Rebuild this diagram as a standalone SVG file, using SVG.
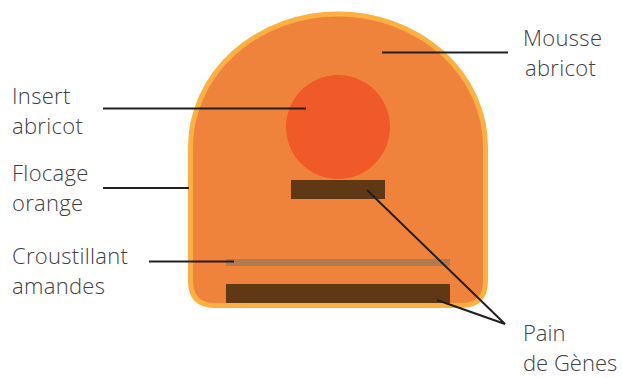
<svg xmlns="http://www.w3.org/2000/svg" width="622" height="378" viewBox="0 0 622 378">
<style>
.lbl{font-family:"Open Sans","Noto Sans",sans-serif;font-weight:300;font-size:22px;letter-spacing:0.3px;fill:#414042}
.tight{letter-spacing:0}
.ln{stroke:#231F20;stroke-width:2;fill:none}
</style>
<rect width="622" height="378" fill="#fff"/>
<g id="mousse">
<path d="M190.5 147 A147.5 133 0 0 1 485.5 147 L485.5 281 Q485.5 305.5 461 305.5 L215 305.5 Q190.5 305.5 190.5 281 Z" fill="#EF833C" stroke="#FBB040" stroke-width="5"/>
</g>
<g id="insert"><circle cx="338" cy="127" r="52" fill="#F05A28"/></g>
<g id="pain-top"><rect x="291" y="180" width="94" height="19" fill="#603813"/></g>
<g id="croustillant"><rect x="226" y="259" width="224" height="7" fill="#B07B4F"/></g>
<g id="pain-bottom"><rect x="226" y="284" width="224" height="19" fill="#603813"/></g>
<g id="connectors">
<line class="ln" x1="382" y1="52.5" x2="508" y2="52.5"/>
<line class="ln" x1="103" y1="108.5" x2="306" y2="108.5"/>
<line class="ln" x1="103" y1="188" x2="189" y2="188"/>
<line class="ln" x1="149" y1="261.5" x2="234" y2="261.5"/>
<polyline class="ln" points="367,190 505,324 437,300"/>
</g>
<g id="labels">
<text class="lbl" x="12" y="104">Insert</text>
<text class="lbl" x="12" y="134">abricot</text>
<text class="lbl" x="12" y="181">Flocage</text>
<text class="lbl" x="12" y="211">orange</text>
<text class="lbl" x="12" y="264">Croustillant</text>
<text class="lbl" x="12" y="294">amandes</text>
<text class="lbl" x="523" y="46">Mousse</text>
<text class="lbl" x="525" y="76">abricot</text>
<text class="lbl tight" x="523" y="341">Pain</text>
<text class="lbl tight" x="523" y="371">de Gènes</text>
</g>
</svg>
